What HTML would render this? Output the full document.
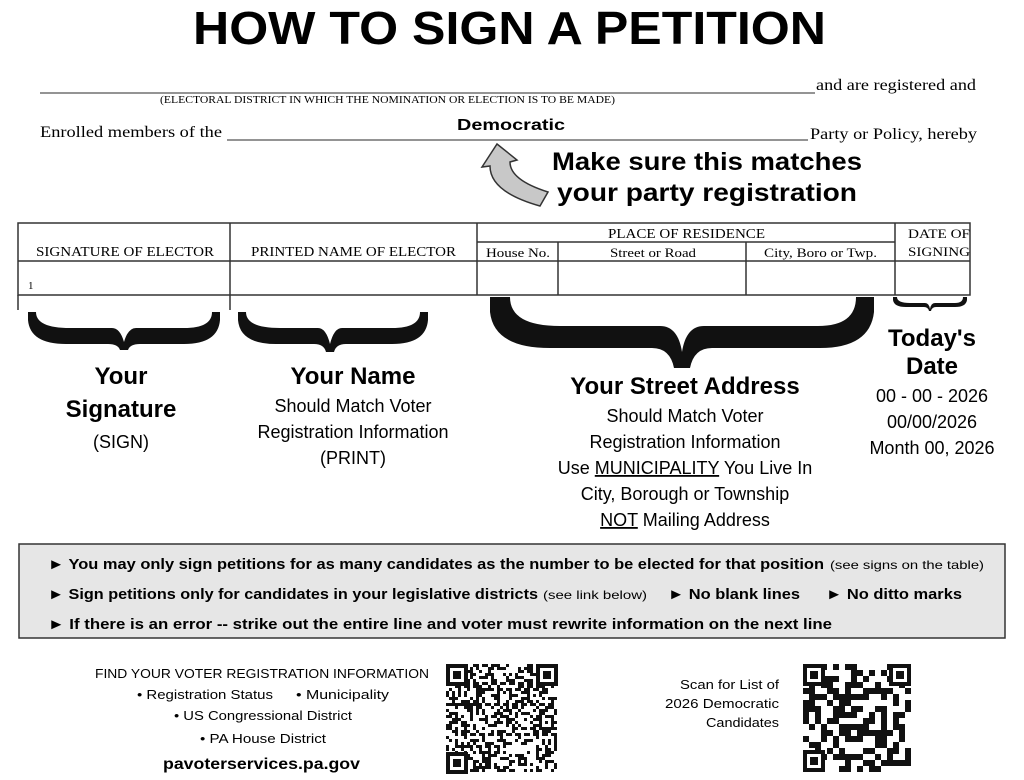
<!DOCTYPE html>
<html><head><meta charset="utf-8"><style>
html,body{margin:0;padding:0;background:#fff;width:1024px;height:780px;overflow:hidden}
svg text{font-family:"Liberation Sans",sans-serif}
.serif{font-family:"Liberation Serif",serif!important}
</style></head><body>
<svg width="1024" height="780" viewBox="0 0 1024 780" xmlns="http://www.w3.org/2000/svg">
<text x="193" y="44" font-size="46" font-weight="bold" textLength="633" lengthAdjust="spacingAndGlyphs">HOW TO SIGN A PETITION</text>
<line x1="40" y1="93" x2="815" y2="93" stroke="#555" stroke-width="1.2"/>
<text class="serif" x="816" y="90" font-size="16" textLength="160" lengthAdjust="spacingAndGlyphs">and are registered and</text>
<text class="serif" x="160" y="103" font-size="10" textLength="455" lengthAdjust="spacingAndGlyphs">(ELECTORAL DISTRICT IN WHICH THE NOMINATION OR ELECTION IS TO BE MADE)</text>
<text class="serif" x="40" y="137" font-size="16" textLength="182" lengthAdjust="spacingAndGlyphs">Enrolled members of the</text>
<line x1="227" y1="140" x2="808" y2="140" stroke="#555" stroke-width="1.2"/>
<text x="457" y="130" font-size="16" font-weight="bold" textLength="108" lengthAdjust="spacingAndGlyphs">Democratic</text>
<text class="serif" x="810" y="139" font-size="16" textLength="167" lengthAdjust="spacingAndGlyphs">Party or Policy, hereby</text>
<path d="M497 144 L517 160 L510 162 Q510 180 548 192 L540 206 Q490 192 490 166 L482 167 Z" fill="#c8c8c8" stroke="#333" stroke-width="1.5"/>
<text x="552" y="170" font-size="25" font-weight="bold" textLength="310" lengthAdjust="spacingAndGlyphs">Make sure this matches</text>
<text x="557" y="201" font-size="25" font-weight="bold" textLength="300" lengthAdjust="spacingAndGlyphs">your party registration</text>
<g stroke="#333" stroke-width="1.5" fill="none">
<rect x="18" y="223" width="952" height="72"/>
<line x1="18" y1="261" x2="970" y2="261"/>
<line x1="477" y1="242" x2="895" y2="242"/>
<line x1="230" y1="223" x2="230" y2="310"/>
<line x1="477" y1="223" x2="477" y2="295"/>
<line x1="558" y1="242" x2="558" y2="295"/>
<line x1="746" y1="242" x2="746" y2="295"/>
<line x1="895" y1="223" x2="895" y2="295"/>
<line x1="18" y1="295" x2="18" y2="310"/>
</g>
<g class="serif" font-size="14">
<text class="serif" x="36" y="256" textLength="178" lengthAdjust="spacingAndGlyphs">SIGNATURE OF ELECTOR</text>
<text class="serif" x="251" y="256" textLength="205" lengthAdjust="spacingAndGlyphs">PRINTED NAME OF ELECTOR</text>
<text class="serif" x="608" y="238" textLength="157" lengthAdjust="spacingAndGlyphs">PLACE OF RESIDENCE</text>
<text class="serif" x="486" y="257" font-size="13" textLength="64" lengthAdjust="spacingAndGlyphs">House No.</text>
<text class="serif" x="610" y="257" font-size="13" textLength="86" lengthAdjust="spacingAndGlyphs">Street or Road</text>
<text class="serif" x="764" y="257" font-size="13" textLength="113" lengthAdjust="spacingAndGlyphs">City, Boro or Twp.</text>
<text class="serif" x="908" y="238" font-size="13" textLength="62" lengthAdjust="spacingAndGlyphs">DATE OF</text>
<text class="serif" x="908" y="256" font-size="13" textLength="62" lengthAdjust="spacingAndGlyphs">SIGNING</text>
<text class="serif" x="28" y="289" font-size="11">1</text>
</g>
<g fill="#111">
<path d="M28 312 L36 312 Q36 328 70 328 L112 328 Q120 328 124 342 Q128 328 136 328 L184 328 Q212 328 212 312 L220 312 L220 320 Q218 344 184 344 L140 344 Q130 344 128 350 L120 350 Q118 344 108 344 L66 344 Q30 344 28 320 Z"/>
<path d="M238 312 L246 312 Q246 328 280 328 L318 328 Q326 328 330 344 Q334 328 342 328 L392 328 Q420 328 420 312 L428 312 L428 320 Q426 344 392 344 L346 344 Q336 344 334 352 L326 352 Q324 344 314 344 L276 344 Q240 344 238 320 Z"/>
<path d="M490 297 L510 297 Q510 326 560 326 L660 326 Q678 326 682 352 Q686 326 704 326 L818 326 Q856 326 856 297 L874 297 L874 312 Q870 348 820 348 L712 348 Q694 348 690 368 L674 368 Q670 348 652 348 L550 348 Q494 348 490 312 Z"/>
<path d="M893 297 L897 297 Q897 303 910 303 L925 303 Q929 303 930 309 Q931 303 935 303 L955 303 Q963 303 963 297 L967 297 L967 300 Q966 307 955 307 L936 307 Q932 307 931 311 L929 311 Q928 307 924 307 L906 307 Q894 307 893 300 Z"/>
</g>
<g text-anchor="middle">
<text x="121" y="384" font-size="24" font-weight="bold">Your</text>
<text x="121" y="417" font-size="24" font-weight="bold">Signature</text>
<text x="121" y="448" font-size="18">(SIGN)</text>
<text x="353" y="384" font-size="24" font-weight="bold">Your Name</text>
<text x="353" y="412" font-size="18">Should Match Voter</text>
<text x="353" y="438" font-size="18">Registration Information</text>
<text x="353" y="464" font-size="18">(PRINT)</text>
<text x="685" y="394" font-size="24" font-weight="bold">Your Street Address</text>
<text x="685" y="422" font-size="18">Should Match Voter</text>
<text x="685" y="448" font-size="18">Registration Information</text>
<text x="685" y="474" font-size="18">Use <tspan text-decoration="underline">MUNICIPALITY</tspan> You Live In</text>
<text x="685" y="500" font-size="18">City, Borough or Township</text>
<text x="685" y="526" font-size="18"><tspan text-decoration="underline">NOT</tspan> Mailing Address</text>
<text x="932" y="346" font-size="24" font-weight="bold">Today's</text>
<text x="932" y="374" font-size="24" font-weight="bold">Date</text>
<text x="932" y="402" font-size="18">00 - 00 - 2026</text>
<text x="932" y="428" font-size="18">00/00/2026</text>
<text x="932" y="454" font-size="18">Month 00, 2026</text>
</g>
<rect x="19" y="544" width="986" height="94" fill="#e6e6e6" stroke="#333" stroke-width="1.5"/>
<g font-size="15" font-weight="bold">
<text x="48" y="569" textLength="776" lengthAdjust="spacingAndGlyphs">► You may only sign petitions for as many candidates as the number to be elected for that position</text>
<text x="830" y="569" font-size="12" font-weight="normal" textLength="154" lengthAdjust="spacingAndGlyphs">(see signs on the table)</text>
<text x="48" y="599" textLength="490" lengthAdjust="spacingAndGlyphs">► Sign petitions only for candidates in your legislative districts</text>
<text x="543" y="599" font-size="12" font-weight="normal" textLength="104" lengthAdjust="spacingAndGlyphs">(see link below)</text>
<text x="668" y="599" textLength="132" lengthAdjust="spacingAndGlyphs">► No blank lines</text>
<text x="826" y="599" textLength="136" lengthAdjust="spacingAndGlyphs">► No ditto marks</text>
<text x="48" y="629" textLength="784" lengthAdjust="spacingAndGlyphs">► If there is an error -- strike out the entire line and voter must rewrite information on the next line</text>
</g>
<g font-size="13">
<text x="95" y="678" textLength="334" lengthAdjust="spacingAndGlyphs">FIND YOUR VOTER REGISTRATION INFORMATION</text>
<text x="137" y="699" textLength="136" lengthAdjust="spacingAndGlyphs">• Registration Status</text>
<text x="296" y="699" textLength="93" lengthAdjust="spacingAndGlyphs">• Municipality</text>
<text x="174" y="720" textLength="178" lengthAdjust="spacingAndGlyphs">• US Congressional District</text>
<text x="200" y="743" textLength="126" lengthAdjust="spacingAndGlyphs">• PA House District</text>
<text x="163" y="769" font-size="16" font-weight="bold" textLength="197" lengthAdjust="spacingAndGlyphs">pavoterservices.pa.gov</text>
<text x="680" y="689" textLength="99" lengthAdjust="spacingAndGlyphs">Scan for List of</text>
<text x="665" y="708" textLength="114" lengthAdjust="spacingAndGlyphs">2026 Democratic</text>
<text x="706" y="727" textLength="73" lengthAdjust="spacingAndGlyphs">Candidates</text>
</g>
<g id="qr1"></g><g id="qr2"></g>
</svg>
<script>
function qr(id,x0,y0,w,h,c,seed,dens){var g=document.getElementById(id),s='';var r=seed;function rnd(){r=(r*9301+49297)%233280;return r/233280;}
var nx=Math.floor(w/c),ny=Math.floor(h/c);
for(var i=0;i<nx;i++)for(var j=0;j<ny;j++){if(rnd()<dens)s+='<rect x="'+(x0+i*c)+'" y="'+(y0+j*c)+'" width="'+c+'" height="'+c+'" fill="#111"/>';}
function f(x,y,sz){s+='<rect x="'+x+'" y="'+y+'" width="'+sz+'" height="'+sz+'" fill="#fff"/><rect x="'+(x+2)+'" y="'+(y+2)+'" width="'+(sz-4)+'" height="'+(sz-4)+'" fill="none" stroke="#111" stroke-width="4"/><rect x="'+(x+sz/2-4)+'" y="'+(y+sz/2-4)+'" width="8" height="8" fill="#111"/>';}
var sz=22;f(x0,y0,sz);f(x0+w-sz,y0,sz);f(x0,y0+h-sz,sz);g.innerHTML=s;}
qr('qr1',446,664,112,110,3,7,0.42);
qr('qr2',803,664,108,108,6,13,0.5);
</script>
</body></html>
